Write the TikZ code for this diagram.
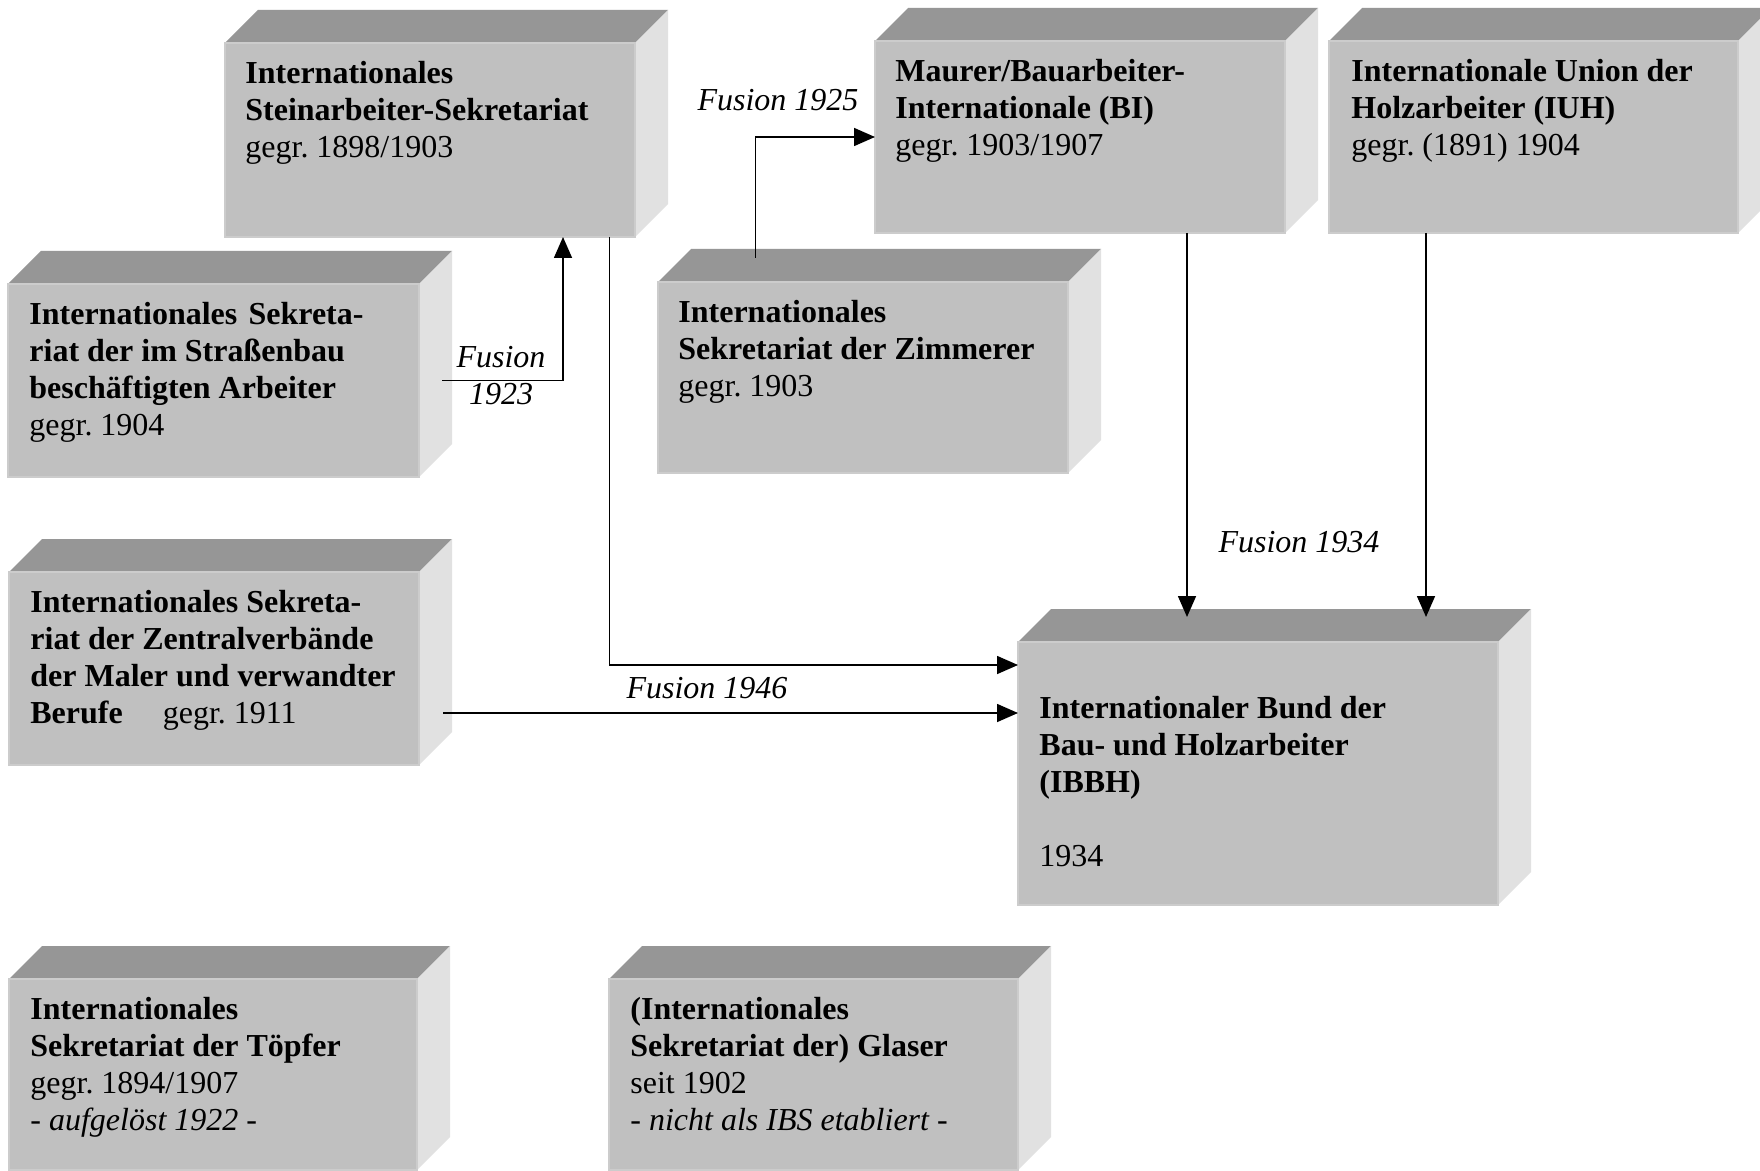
\documentclass[tikz,border=0pt]{standalone}
\usepackage{fontspec}
\setmainfont{Liberation Serif}
\usetikzlibrary{arrows.meta}
\frenchspacing
\definecolor{topc}{HTML}{969696}
\definecolor{frontc}{HTML}{C0C0C0}
\definecolor{sidec}{HTML}{E1E1E1}
\definecolor{edgec}{HTML}{CCCCCC}
\newcommand{\mkcube}[5]{%
  \fill[topc] (#2,#3) -- ++(33,-33) -- ++(#4,0) -- ++(-33,33) -- cycle;
  \fill[sidec] (#2+#4,#3) -- ++(33,-33) -- ++(0,#5) -- ++(-33,33) -- cycle;
  \node[front, minimum width=#4*0.5pt, minimum height=#5*0.5pt, anchor=north west] (#1) at (#2,#3) {};
}
\tikzset{
  front/.style={fill=frontc, draw=edgec, line width=0.75pt, inner sep=0pt, outer sep=0pt},
  txt/.style={anchor=north west, inner sep=0pt, align=left, font=\fontsize{16}{18.5}\selectfont},
  lbl/.style={inner sep=0pt, align=center, font=\fontsize{16}{18.5}\selectfont\itshape},
  conn/.style={line width=0.8pt, -{Triangle[length=10.5pt,width=9pt]}},
}
\begin{document}
\begin{tikzpicture}[x=0.5pt,y=-0.5pt]
\fill[white] (0,0) rectangle (1760,1171);
\useasboundingbox (0,0) rectangle (1760,1171);

\mkcube{b1}{225}{43}{410}{194}
\mkcube{b2}{8}{284}{411}{193}
\mkcube{b3}{9}{572}{410}{193}
\mkcube{b4}{9}{979}{408}{191}
\mkcube{b5}{875}{41}{410}{192}
\mkcube{b6}{1329}{41}{409}{192}
\mkcube{b7}{658}{282}{410}{191}
\mkcube{b8}{1018}{642}{480}{263}
\mkcube{b9}{609}{979}{409}{191}

\node[txt] (t1) at (245,61) {\textbf{Internationales}\\\textbf{Steinarbeiter-Sekretariat}\\gegr. 1898/1903};
\node[txt] (t2) at (29,302) {\textbf{Internationales\hspace{0.35em}Sekreta-}\\\textbf{riat der im Straßenbau}\\\textbf{beschäftigten Arbeiter}\\gegr. 1904};
\node[txt] (t3) at (30,590) {\textbf{Internationales Sekreta-}\\\textbf{riat der Zentralverbände}\\\textbf{der Maler und verwandter}\\\textbf{Berufe}\hspace{1.25em}gegr. 1911};
\node[txt] (t4) at (30,997) {\textbf{Internationales}\\\textbf{Sekretariat der Töpfer}\\gegr. 1894/1907\\\textit{- aufgelöst 1922 -}};
\node[txt] (t5) at (895,59) {\textbf{Maurer/Bauarbeiter-}\\\textbf{Internationale (BI)}\\gegr. 1903/1907};
\node[txt] (t6) at (1351,59) {\textbf{Internationale Union der}\\\textbf{Holzarbeiter (IUH)}\\gegr. (1891) 1904};
\node[txt] (t7) at (678,300) {\textbf{Internationales}\\\textbf{Sekretariat der Zimmerer}\\gegr. 1903};
\node[txt] (t8) at (1039,696) {\textbf{Internationaler Bund der}\\\textbf{Bau- und Holzarbeiter}\\\textbf{(IBBH)}\\[18.5pt]1934};
\node[txt] (t9) at (630,997) {\textbf{(Internationales}\\\textbf{Sekretariat der) Glaser}\\seit 1902\\\textit{- nicht als IBS etabliert -}};

% connectors
\draw[conn] ([xshift=11.5pt]b2.east) -| ([xshift=66.5pt]b1.south);
\draw[conn] ([xshift=-53.75pt,yshift=12pt]b7.north) |- (b5.west);
\draw[conn] ([xshift=-12.75pt]b1.south east) |- ([yshift=54.25pt]b8.west);
\draw[conn] ([xshift=12pt,yshift=-22.25pt]b3.east) -- ([yshift=30.25pt]b8.west);
\draw[conn] ([xshift=53.5pt]b5.south) -- ([xshift=-35.5pt,yshift=12.5pt]b8.north);
\draw[conn] ([xshift=-53.75pt]b6.south) -- ([xshift=84pt,yshift=12.5pt]b8.north);

% labels
\node[lbl] (f1923) at (501,376) {Fusion\\1923};
\node[lbl] (f1925) at (778,100) {Fusion 1925};
\node[lbl] (f1934) at (1299,542) {Fusion 1934};
\node[lbl] (f1946) at (707,688) {Fusion 1946};
\end{tikzpicture}
\end{document}
